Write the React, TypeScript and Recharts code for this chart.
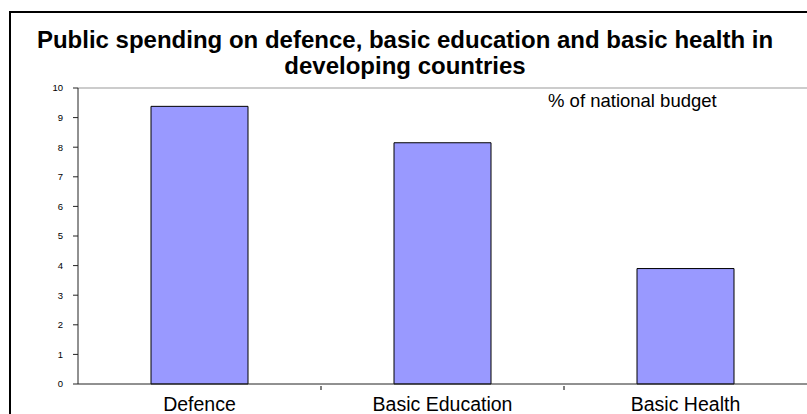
import React from 'react';
import { BarChart, Bar, XAxis, YAxis, ReferenceLine } from 'recharts';

const categories = ['Defence', 'Basic Education', 'Basic Health'];
const spending = [9.38, 8.15, 3.9];
const yTicks = [0, 1, 2, 3, 4, 5, 6, 7, 8, 9, 10];
const titleLines = [
  'Public spending on defence, basic education and basic health in',
  'developing countries',
];
const annotation = '% of national budget';

const data = categories.map((c, i) => ({ name: c, value: spending[i] }));

const FONT = '"Liberation Sans", Arial, Helvetica, sans-serif';

const XTick = (props: any) => {
  const { x, y, payload, index } = props;
  const off = payload && typeof payload.offset === 'number' && payload.offset > 0 ? payload.offset : 121.5;
  return (
    <g>
      {index < categories.length - 1 && (
        <line x1={x + off} x2={x + off} y1={y} y2={y + 4} stroke="#000" strokeWidth={1} />
      )}
      <text x={x} y={y + 25} textAnchor="middle" fontFamily={FONT} fontSize={19.5} fill="#000">
        {payload.value}
      </text>
    </g>
  );
};

export default function App() {
  return (
    <div style={{ position: 'absolute', left: 0, top: 0, width: 807, height: 414, overflow: 'hidden', background: '#fff' }}>
      <div
        style={{
          position: 'absolute',
          left: 9,
          top: 11,
          width: 900,
          height: 500,
          borderTop: '2px solid #000',
          borderLeft: '2px solid #000',
        }}
      />
      <div style={{ position: 'absolute', left: 0, top: 0 }}>
        <BarChart width={807} height={414} data={data} margin={{ top: 88, right: 0, left: 0, bottom: 0 }}>
          <ReferenceLine y={10} stroke="#999" strokeWidth={1} />
          <XAxis
            dataKey="name"
            height={30}
            axisLine={{ stroke: '#222' }}
            tickLine={false}
            tickSize={0}
            tick={<XTick />}
            interval={0}
          />
          <YAxis
            width={78}
            domain={[0, 10]}
            ticks={yTicks}
            interval={0}
            axisLine={{ stroke: '#222' }}
            tickLine={{ stroke: '#222' }}
            tickSize={5}
            tickMargin={10}
            tick={{ fontSize: 9.5, fill: '#000', fontFamily: FONT }}
          />
          <Bar dataKey="value" fill="#9999FF" stroke="#000" strokeWidth={1} barSize={97} isAnimationActive={false} />
        </BarChart>
      </div>
      <svg width={807} height={414} style={{ position: 'absolute', left: 0, top: 0, pointerEvents: 'none' }}>
        <text x={405} y={48} textAnchor="middle" fontFamily={FONT} fontWeight="bold" fontSize={24} fill="#000">
          {titleLines[0]}
        </text>
        <text x={405} y={74} textAnchor="middle" fontFamily={FONT} fontWeight="bold" fontSize={24} fill="#000">
          {titleLines[1]}
        </text>
        <text x={548} y={107} fontFamily={FONT} fontSize={18.5} fill="#000">
          {annotation}
        </text>
      </svg>
    </div>
  );
}
